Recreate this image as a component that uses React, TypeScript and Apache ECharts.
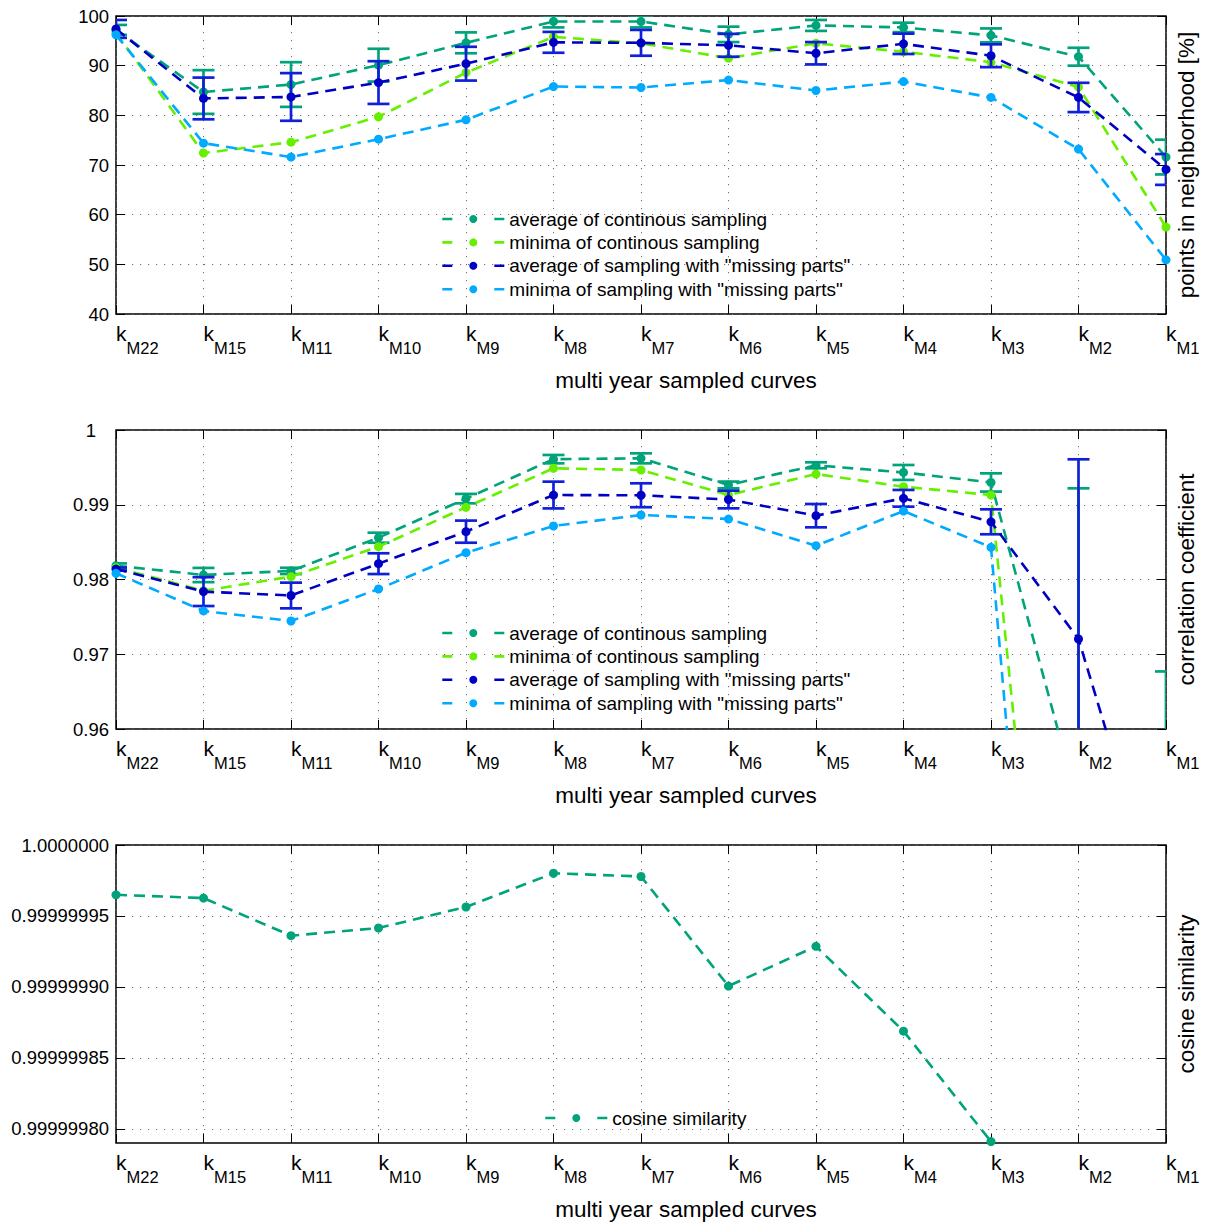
import React, { useEffect, useRef } from 'react';
import * as echarts from 'echarts';

// ---------- data ----------
const categories = ['M22', 'M15', 'M11', 'M10', 'M9', 'M8', 'M7', 'M6', 'M5', 'M4', 'M3', 'M2', 'M1'];

const nameAvgCont = 'average of continous sampling';
const nameMinCont = 'minima of continous sampling';
const nameAvgMiss = 'average of sampling with "missing parts"';
const nameMinMiss = 'minima of sampling with "missing parts"';
const nameCosine = 'cosine similarity';

// points in neighborhood [%]
const nbAvgCont = [97.2, 84.7, 86.2, 90.1, 94.6, 98.9, 98.9, 96.3, 98.1, 97.7, 96.1, 91.8, 71.6];
const nbAvgContStd = [1.0, 4.4, 4.5, 3.3, 2.1, 1.2, 1.2, 1.55, 1.1, 0.95, 1.4, 1.8, 3.5];
const nbMinCont = [96.6, 72.4, 74.6, 79.7, 88.6, 95.8, 94.5, 91.5, 94.5, 92.8, 90.7, 85.7, 57.5];
const nbAvgMiss = [97.4, 83.4, 83.7, 86.6, 90.4, 94.7, 94.6, 94.1, 92.5, 94.4, 92.0, 83.6, 69.1];
const nbAvgMissStd = [1.8, 4.2, 4.8, 4.3, 3.4, 2.1, 2.6, 2.3, 2.25, 2.05, 2.3, 2.95, 3.1];
const nbMinMiss = [96.2, 74.4, 71.6, 75.2, 79.1, 85.8, 85.6, 87.1, 85.0, 86.8, 83.6, 73.2, 50.9];

// correlation coefficient
const ccAvgCont = [0.98185, 0.9806, 0.98115, 0.98559, 0.99082, 0.9961, 0.99621, 0.99265, 0.99528, 0.99432, 0.99298, 0.9497, 0.945];
const ccAvgContStd = [0.0003, 0.00095, 0.00042, 0.00067, 0.00063, 0.00056, 0.00067, 0.00045, 0.0004, 0.001, 0.00122, 0.0425, 0.0227];
const ccMinCont = [0.9816, 0.9785, 0.98038, 0.98439, 0.98966, 0.99488, 0.99465, 0.9913, 0.99411, 0.99242, 0.9913, 0.8765, 0.86];
const ccAvgMiss = [0.9814, 0.97838, 0.97786, 0.98212, 0.9864, 0.9913, 0.99127, 0.9907, 0.98854, 0.99086, 0.98772, 0.97204, 0.9332];
const ccAvgMissStd = [0.0002, 0.00193, 0.00172, 0.00139, 0.00148, 0.00179, 0.0016, 0.00118, 0.00156, 0.00112, 0.00167, 0.02404, 0.02];
const ccMinMiss = [0.98083, 0.97579, 0.97445, 0.97873, 0.98359, 0.98716, 0.98863, 0.98809, 0.98452, 0.98916, 0.98431, 0.8504, 0.8];

// cosine similarity
const cosine = [
  0.9999999649, 0.9999999626, 0.9999999361, 0.9999999415, 0.9999999563, 0.9999999801,
  0.9999999778, 0.9999999006, 0.9999999286, 0.9999998688, 0.999999791, null, null,
];
const cosineTicks = [0.9999998, 0.99999985, 0.9999999, 0.99999995, 1.0];

// ---------- style ----------
const FONT = '"Liberation Sans", Arial, Helvetica, sans-serif';
const TEAL = '#00a37a';
const GREEN = '#66f000';
const BLUE = '#0000c4';
const ERRBLUE = '#1020d8';
const LIGHTBLUE = '#00aaff';

const GRIDS = [
  { left: 116, top: 16, width: 1052, height: 298 },
  { left: 116, top: 430, width: 1052, height: 299 },
  { left: 116, top: 845, width: 1052, height: 298 },
];

const gridLine = { color: '#707070', width: 1, type: [1.2, 6.8] as any };
const tickStyle = { color: '#000', width: 1 };

function xAxes(gridIndex: number) {
  return [
    {
      type: 'category', gridIndex, data: categories, boundaryGap: false, position: 'bottom',
      axisLine: { show: false },
      axisTick: { show: true, inside: true, length: 9, interval: 0, lineStyle: tickStyle },
      axisLabel: {
        interval: 0, align: 'left', margin: 9,
        formatter: (v: string) => `{k|k}{s|${v}}`,
        rich: {
          k: { fontSize: 21, lineHeight: 22, verticalAlign: 'top', fontFamily: FONT, color: '#000' },
          s: { fontSize: 16.5, lineHeight: 17, verticalAlign: 'top', padding: [16, 0, 0, 0], fontFamily: FONT, color: '#000' },
        },
      },
      splitLine: { show: true, interval: 0, lineStyle: gridLine },
      name: 'multi year sampled curves', nameLocation: 'middle', nameGap: 55,
      nameTextStyle: { fontSize: 22.5, color: '#000', fontFamily: FONT, padding: [0, 0, 0, 90] },
    },
    {
      type: 'category', gridIndex, data: categories, boundaryGap: false, position: 'top',
      axisLine: { show: false },
      axisTick: { show: true, inside: true, length: 9, interval: 0, lineStyle: tickStyle },
      axisLabel: { show: false },
      splitLine: { show: false },
    },
  ];
}

function yAxes(gridIndex: number, range: any, formatter: any, name: string, custom?: number[], rich?: any) {
  const tick: any = { show: true, inside: true, length: 9, lineStyle: tickStyle };
  const label: any = { color: '#000', fontSize: 18.5, fontFamily: FONT, margin: 7, formatter };
  if (rich) label.rich = rich;
  const split: any = { show: true, lineStyle: gridLine };
  if (custom) {
    tick.customValues = custom;
    label.customValues = custom;
    split.customValues = custom;
  }
  return [
    {
      type: 'value', gridIndex, position: 'left', ...range,
      axisLine: { show: false }, axisTick: tick, axisLabel: label, splitLine: split,
    },
    {
      type: 'value', gridIndex, position: 'right', ...range,
      axisLine: { show: false }, axisTick: { ...tick }, axisLabel: { show: false }, splitLine: { show: false },
      name, nameLocation: 'middle', nameGap: 9, nameRotate: 90,
      nameTextStyle: { fontSize: 22.5, color: '#000', fontFamily: FONT },
    },
  ];
}

function lineSeries(g: number, name: string, data: any[], color: string, z: number) {
  return {
    type: 'line', name, xAxisIndex: 2 * g, yAxisIndex: 2 * g, data,
    symbol: 'circle', symbolSize: 9, showSymbol: true, clip: true, silent: true, z,
    lineStyle: { color, width: 2.6, type: [11, 7] },
    itemStyle: { color },
  };
}

function errSeries(g: number, mean: number[], std: number[], color: string, z: number) {
  const data = mean.map((m, i) => [i, m - std[i], m + std[i]]);
  return {
    type: 'custom', xAxisIndex: 2 * g, yAxisIndex: 2 * g, data, clip: true, silent: true, z,
    encode: { x: 0, y: [1, 2] },
    renderItem: (_p: any, api: any) => {
      const x = api.value(0);
      const lo = api.coord([x, api.value(1)]);
      const hi = api.coord([x, api.value(2)]);
      const hw = 11;
      const style = { stroke: color, lineWidth: 2.7 };
      return {
        type: 'group',
        children: [
          { type: 'line', shape: { x1: lo[0], y1: lo[1], x2: hi[0], y2: hi[1] }, style },
          { type: 'line', shape: { x1: hi[0] - hw, y1: hi[1], x2: hi[0] + hw, y2: hi[1] }, style },
          { type: 'line', shape: { x1: lo[0] - hw, y1: lo[1], x2: lo[0] + hw, y2: lo[1] }, style },
        ],
      };
    },
  };
}

function legend(top: number, left: number, names: string[]) {
  return {
    orient: 'vertical', top, left, data: names, selectedMode: false,
    itemWidth: 62, itemHeight: 10, itemGap: 3.4,
    lineStyle: { type: [10, 42], width: 2.6 },
    textStyle: { fontSize: 19, lineHeight: 20, color: '#000', fontFamily: FONT },
  };
}

function buildOption() {
  const fourNames = [nameAvgCont, nameMinCont, nameAvgMiss, nameMinMiss];
  return {
    animation: false,
    textStyle: { fontFamily: FONT },
    grid: GRIDS.map((g) => ({ ...g, show: true, borderColor: '#000', borderWidth: 1.5, containLabel: false })),
    xAxis: [...xAxes(0), ...xAxes(1), ...xAxes(2)],
    yAxis: [
      ...yAxes(0, { min: 40, max: 100, interval: 10 }, (v: number) => String(Math.round(v)), 'points in neighborhood [%]'),
      ...yAxes(
        1, { min: 0.96, max: 1, interval: 0.01 },
        (v: number) => (v > 0.9999 ? '{one|1}' : v.toFixed(2)),
        'correlation coefficient', undefined,
        { one: { fontSize: 18.5, fontFamily: FONT, color: '#000', padding: [0, 13, 0, 0] } },
      ),
      ...yAxes(2, { min: 0.99999979, max: 1 }, (v: number) => (v > 0.999999999 ? '1.0000000' : v.toFixed(8)), 'cosine similarity', cosineTicks),
    ],
    legend: [
      legend(204, 436, fourNames),
      legend(618, 436, fourNames),
      legend(1103, 539, [nameCosine]),
    ],
    series: [
      lineSeries(0, nameAvgCont, nbAvgCont, TEAL, 3),
      errSeries(0, nbAvgCont, nbAvgContStd, TEAL, 3),
      lineSeries(0, nameMinCont, nbMinCont, GREEN, 4),
      lineSeries(0, nameAvgMiss, nbAvgMiss, BLUE, 5),
      errSeries(0, nbAvgMiss, nbAvgMissStd, ERRBLUE, 5),
      lineSeries(0, nameMinMiss, nbMinMiss, LIGHTBLUE, 6),

      lineSeries(1, nameAvgCont, ccAvgCont, TEAL, 3),
      errSeries(1, ccAvgCont, ccAvgContStd, TEAL, 3),
      lineSeries(1, nameMinCont, ccMinCont, GREEN, 4),
      lineSeries(1, nameAvgMiss, ccAvgMiss, BLUE, 5),
      errSeries(1, ccAvgMiss, ccAvgMissStd, ERRBLUE, 5),
      lineSeries(1, nameMinMiss, ccMinMiss, LIGHTBLUE, 6),

      lineSeries(2, nameCosine, cosine, TEAL, 3),
    ],
  };
}

export default function App() {
  const ref = useRef<HTMLDivElement>(null);
  useEffect(() => {
    document.body.style.margin = '0';
    const chart = echarts.init(ref.current as HTMLDivElement, null, { renderer: 'svg' });
    chart.setOption(buildOption() as any);
    return () => chart.dispose();
  }, []);
  return <div ref={ref} style={{ width: 1206, height: 1224 }} />;
}
